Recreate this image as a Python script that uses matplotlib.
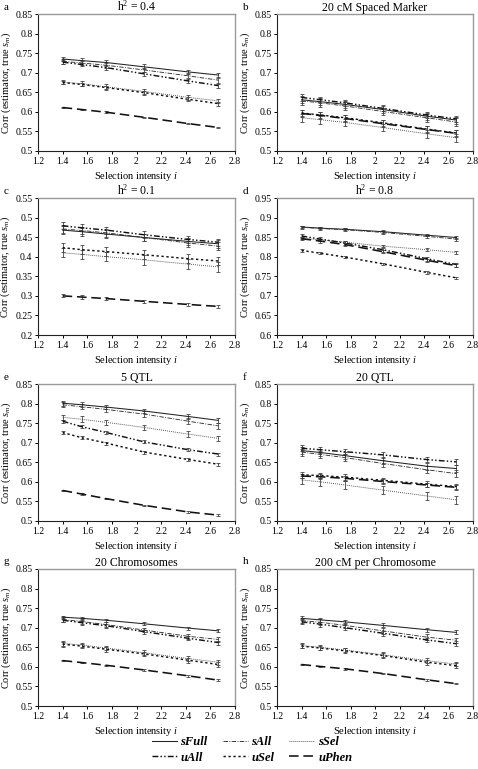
import matplotlib
matplotlib.use("Agg")
import matplotlib.pyplot as plt
from matplotlib.lines import Line2D
from matplotlib.ticker import FixedLocator, FuncFormatter

plt.rcParams['font.family'] = ['Liberation Serif', 'DejaVu Serif']
plt.rcParams['mathtext.fontset'] = 'custom'
plt.rcParams['mathtext.it'] = 'Liberation Serif:italic'
plt.rcParams['mathtext.rm'] = 'Liberation Serif'

# Selection intensities
x_int = [1.40, 1.554, 1.755, 2.063, 2.421, 2.665]

series_names = ['sFull', 'sAll', 'sSel', 'uAll', 'uSel', 'uPhen']

panel_letters = ['a', 'b', 'c', 'd', 'e', 'f', 'g', 'h']
panel_titles = ['h$^2$ = 0.4', '20 cM Spaced Marker', 'h$^2$ = 0.1', 'h$^2$ = 0.8',
                '5 QTL', '20 QTL', '20 Chromosomes', '200 cM per Chromosome']
panel_ylims = [(0.5, 0.85), (0.5, 0.85), (0.2, 0.55), (0.6, 0.95),
               (0.5, 0.85), (0.5, 0.85), (0.5, 0.85), (0.5, 0.85)]

panel_a = {'sFull': [0.735, 0.731, 0.726, 0.715, 0.702, 0.694],
           'sAll':  [0.729, 0.725, 0.719, 0.707, 0.692, 0.681],
           'sSel':  [0.676, 0.672, 0.664, 0.652, 0.637, 0.628],
           'uAll':  [0.727, 0.721, 0.713, 0.697, 0.679, 0.667],
           'uSel':  [0.675, 0.670, 0.662, 0.649, 0.632, 0.621],
           'uPhen': [0.611, 0.606, 0.599, 0.586, 0.570, 0.560]}
panel_b = {'sFull': [0.631, 0.626, 0.619, 0.606, 0.589, 0.579],
           'sAll':  [0.628, 0.623, 0.615, 0.601, 0.585, 0.574],
           'sSel':  [0.585, 0.580, 0.573, 0.560, 0.544, 0.534],
           'uAll':  [0.637, 0.631, 0.623, 0.609, 0.592, 0.582],
           'uSel':  [0.597, 0.592, 0.585, 0.572, 0.556, 0.546],
           'uPhen': [0.596, 0.591, 0.583, 0.570, 0.555, 0.545]}
panel_c = {'sFull': [0.468, 0.464, 0.458, 0.449, 0.439, 0.433],
           'sAll':  [0.471, 0.467, 0.461, 0.449, 0.435, 0.427],
           'sSel':  [0.410, 0.406, 0.400, 0.392, 0.381, 0.374],
           'uAll':  [0.479, 0.474, 0.468, 0.456, 0.444, 0.437],
           'uSel':  [0.423, 0.418, 0.413, 0.405, 0.395, 0.389],
           'uPhen': [0.300, 0.297, 0.293, 0.286, 0.278, 0.273]}
panel_d = {'sFull': [0.876, 0.873, 0.870, 0.864, 0.855, 0.849],
           'sAll':  [0.875, 0.872, 0.869, 0.862, 0.852, 0.845],
           'sSel':  [0.848, 0.843, 0.837, 0.827, 0.818, 0.811],
           'uAll':  [0.853, 0.845, 0.835, 0.818, 0.795, 0.780],
           'uSel':  [0.816, 0.809, 0.799, 0.782, 0.760, 0.746],
           'uPhen': [0.846, 0.840, 0.831, 0.813, 0.791, 0.777]}
panel_e = {'sFull': [0.801, 0.797, 0.791, 0.781, 0.767, 0.757],
           'sAll':  [0.797, 0.792, 0.785, 0.773, 0.755, 0.743],
           'sSel':  [0.765, 0.760, 0.752, 0.739, 0.722, 0.711],
           'uAll':  [0.755, 0.741, 0.726, 0.702, 0.682, 0.671],
           'uSel':  [0.726, 0.713, 0.699, 0.676, 0.657, 0.645],
           'uPhen': [0.578, 0.569, 0.557, 0.540, 0.523, 0.515]}
panel_f = {'sFull': [0.680, 0.675, 0.667, 0.654, 0.640, 0.634],
           'sAll':  [0.676, 0.670, 0.662, 0.647, 0.631, 0.621],
           'sSel':  [0.605, 0.600, 0.592, 0.579, 0.564, 0.554],
           'uAll':  [0.686, 0.682, 0.677, 0.669, 0.657, 0.651],
           'uSel':  [0.618, 0.616, 0.612, 0.604, 0.594, 0.588],
           'uPhen': [0.615, 0.613, 0.609, 0.601, 0.592, 0.586]}
panel_g = {'sFull': [0.727, 0.724, 0.719, 0.710, 0.699, 0.692],
           'sAll':  [0.721, 0.716, 0.708, 0.694, 0.678, 0.670],
           'sSel':  [0.660, 0.656, 0.648, 0.636, 0.621, 0.612],
           'uAll':  [0.719, 0.713, 0.705, 0.690, 0.673, 0.662],
           'uSel':  [0.658, 0.653, 0.645, 0.633, 0.617, 0.606],
           'uPhen': [0.616, 0.611, 0.604, 0.592, 0.577, 0.566]}
panel_h = {'sFull': [0.724, 0.720, 0.715, 0.706, 0.695, 0.688],
           'sAll':  [0.718, 0.714, 0.706, 0.692, 0.676, 0.668],
           'sSel':  [0.654, 0.650, 0.643, 0.631, 0.616, 0.607],
           'uAll':  [0.715, 0.709, 0.700, 0.686, 0.669, 0.659],
           'uSel':  [0.653, 0.648, 0.641, 0.629, 0.612, 0.603],
           'uPhen': [0.606, 0.601, 0.595, 0.583, 0.567, 0.557]}

# approximate error-bar half widths per panel and series
err_a = {'sFull': 0.006, 'sAll': 0.006, 'sSel': 0.006, 'uAll': 0.005, 'uSel': 0.005, 'uPhen': 0.002}
err_b = {'sFull': 0.009, 'sAll': 0.010, 'sSel': 0.010, 'uAll': 0.008, 'uSel': 0.008, 'uPhen': 0.008}
err_c = {'sFull': 0.010, 'sAll': 0.010, 'sSel': 0.012, 'uAll': 0.009, 'uSel': 0.011, 'uPhen': 0.004}
err_d = {'sFull': 0.003, 'sAll': 0.004, 'sSel': 0.003, 'uAll': 0.005, 'uSel': 0.003, 'uPhen': 0.004}
err_e = {'sFull': 0.006, 'sAll': 0.007, 'sSel': 0.007, 'uAll': 0.004, 'uSel': 0.004, 'uPhen': 0.002}
err_f = {'sFull': 0.009, 'sAll': 0.009, 'sSel': 0.010, 'uAll': 0.007, 'uSel': 0.007, 'uPhen': 0.006}
err_g = {'sFull': 0.004, 'sAll': 0.006, 'sSel': 0.006, 'uAll': 0.005, 'uSel': 0.006, 'uPhen': 0.002}
err_h = {'sFull': 0.005, 'sAll': 0.007, 'sSel': 0.006, 'uAll': 0.006, 'uSel': 0.006, 'uPhen': 0.002}

panels = [panel_a, panel_b, panel_c, panel_d, panel_e, panel_f, panel_g, panel_h]
errors = [err_a, err_b, err_c, err_d, err_e, err_f, err_g, err_h]

styles = {
    'sFull': dict(ls='-', lw=0.75, color='#222222'),
    'sAll':  dict(ls=(0, (5, 1.5, 1, 1.5)), lw=0.65, color='#333333'),
    'sSel':  dict(ls=(0, (1, 1.2)), lw=0.65, color='#444444'),
    'uAll':  dict(ls=(0, (4, 1.5, 1, 1.5, 1, 1.5)), lw=1.05, color='#111111'),
    'uSel':  dict(ls=(0, (1.6, 1.8)), lw=1.05, color='#111111'),
    'uPhen': dict(ls=(0, (6, 3)), lw=1.15, color='#111111'),
}

W, H = 478, 769
fig = plt.figure(figsize=(W / 100, H / 100), dpi=100)

col_left = [38, 277]
col_width = [197, 196]
row_top = [14, 198, 384, 569]
ax_h = 137

def fmt(v, pos):
    s = ('%.2f' % v).rstrip('0').rstrip('.')
    return s

for k in range(8):
    r, c = divmod(k, 2)
    left = col_left[c] / W
    bottom = 1 - (row_top[r] + ax_h) / H
    ax = fig.add_axes([left, bottom, col_width[c] / W, ax_h / H])
    data = panels[k]
    err = errors[k]
    for name in series_names:
        st = styles[name]
        ax.errorbar(x_int, data[name], yerr=err[name], color=st['color'], ls=st['ls'],
                    lw=st['lw'], elinewidth=0.6, capsize=1.6, capthick=0.6,
                    ecolor='#444444')
    lo, hi = panel_ylims[k]
    ax.set_ylim(lo, hi)
    ax.set_xlim(1.2, 2.8)
    yt = [round(lo + 0.05 * i, 2) for i in range(8)]
    ax.yaxis.set_major_locator(FixedLocator(yt))
    ax.xaxis.set_major_locator(FixedLocator([1.2, 1.4, 1.6, 1.8, 2.0, 2.2, 2.4, 2.6, 2.8]))
    ax.yaxis.set_major_formatter(FuncFormatter(fmt))
    ax.xaxis.set_major_formatter(FuncFormatter(fmt))
    ax.tick_params(labelsize=7, length=2.5, width=0.7, pad=1.5, direction='out')
    for sp in ['top', 'right']:
        ax.spines[sp].set_color('#9a9a9a')
        ax.spines[sp].set_linewidth(1.0)
    for sp in ['left', 'bottom']:
        ax.spines[sp].set_color('#222222')
        ax.spines[sp].set_linewidth(0.8)
    ax.set_title(panel_titles[k], fontsize=8.5, pad=2)
    ax.set_xlabel('Selection intensity $i$', fontsize=7.5, labelpad=3)
    ax.set_ylabel('Corr (estimator, true $s_m$)', fontsize=7.5, labelpad=2)
    fig.text((col_left[c] - 34) / W, 1 - (row_top[r] - 7) / H, panel_letters[k],
             fontsize=8, ha='left', va='center')

handles = []
for name in ['sFull', 'uAll', 'sAll', 'uSel', 'sSel', 'uPhen']:
    st = styles[name]
    handles.append(Line2D([], [], color=st['color'], ls=st['ls'], lw=st['lw']))
labels = ['sFull', 'uAll', 'sAll', 'uSel', 'sSel', 'uPhen']
fig.legend(handles, labels, loc='center', bbox_to_anchor=(0.527, 1 - 750 / H), ncol=3,
           frameon=False, prop=dict(family='Liberation Serif', style='italic', weight='bold', size=9),
           handlelength=2.0, handletextpad=0.3, columnspacing=1.2, labelspacing=0.25)

fig.savefig('out.png', dpi=100)
